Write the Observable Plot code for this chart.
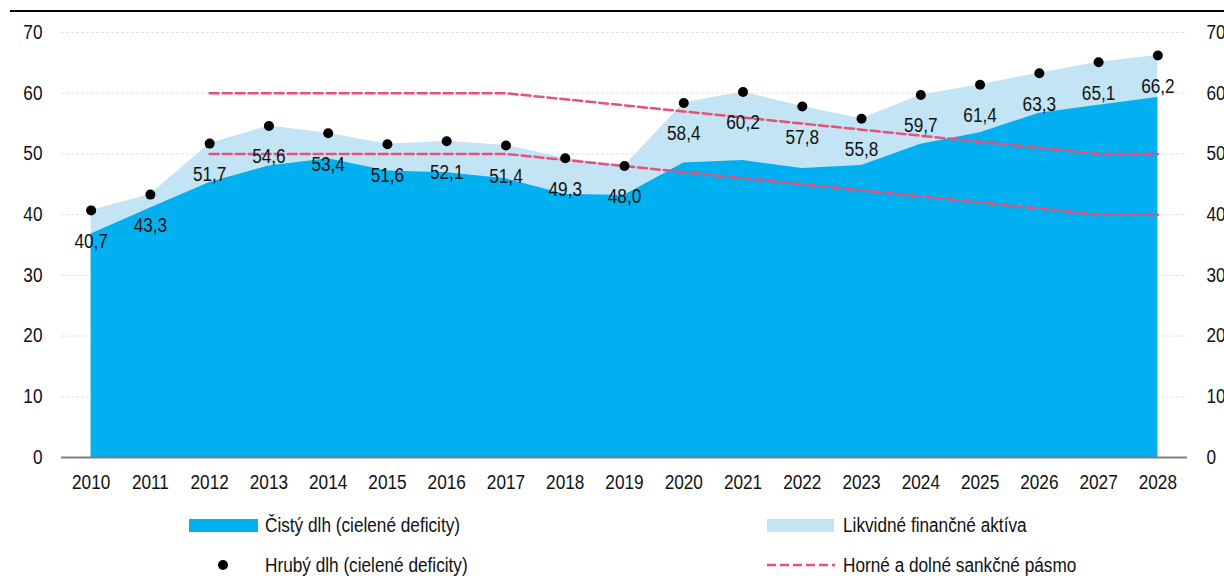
<!DOCTYPE html>
<html>
<head>
<meta charset="utf-8">
<script src="https://cdn.jsdelivr.net/npm/d3@7"></script>
<script src="https://cdn.jsdelivr.net/npm/@observablehq/plot@0.6"></script>
<style>
  html, body { margin: 0; padding: 0; background: #fff; }
  #wrap { position: relative; width: 1224px; height: 576px; overflow: hidden;
          font-family: 'Liberation Sans', Arial, sans-serif; }
  #topline { position: absolute; left: 10px; top: 10px; width: 1214px; height: 2px; background: #000; }
  #chart { position: absolute; left: 0; top: 0; }
  .leg { position: absolute; font-size: 20px; color: #111; line-height: 22px; white-space: nowrap;
         transform: scaleX(0.86); transform-origin: 0 50%; }
  .sw { position: absolute; }
</style>
</head>
<body>
<div id="wrap">
  <div id="chart"></div>
  <div id="topline"></div>
  <div id="legend"></div>
</div>
<script>
const years = [2010, 2011, 2012, 2013, 2014, 2015, 2016, 2017, 2018, 2019, 2020, 2021, 2022, 2023, 2024, 2025, 2026, 2027, 2028];
const grossDebt = [40.7, 43.3, 51.7, 54.6, 53.4, 51.6, 52.1, 51.4, 49.3, 48.0, 58.4, 60.2, 57.8, 55.8, 59.7, 61.4, 63.3, 65.1, 66.2];
const netDebt = [36.8, 41.1, 45.3, 48.0, 49.2, 47.2, 46.9, 45.9, 43.3, 43.2, 48.5, 48.9, 47.6, 48.1, 51.6, 53.5, 56.7, 58.0, 59.3];
const upperBand = [null, null, 60, 60, 60, 60, 60, 60, 59, 58, 57, 56, 55, 54, 53, 52, 51, 50, 50];
const lowerBand = [null, null, 50, 50, 50, 50, 50, 50, 49, 48, 47, 46, 45, 44, 43, 42, 41, 40, 40];
const yTicks = [0, 10, 20, 30, 40, 50, 60, 70];
const legendLabels = {
  net: "Čistý dlh (cielené deficity)",
  liquid: "Likvidné finančné aktíva",
  gross: "Hrubý dlh (cielené deficity)",
  band: "Horné a dolné sankčné pásmo"
};

const colDark = "#00b0f0";
const colLight = "#c2e4f5";
const colBand = "#e94f7a";

const rows = years.map((y, i) => ({
  year: y, gross: grossDebt[i], net: netDebt[i],
  upper: upperBand[i], lower: lowerBand[i],
  label: grossDebt[i].toFixed(1).replace(".", ",")
}));

const chart = Plot.plot({
  width: 1224,
  height: 500,
  marginLeft: 61,
  marginRight: 37,
  marginTop: 32,
  marginBottom: 43,
  style: { fontFamily: "'Liberation Sans', Arial, sans-serif", fontSize: "20px", color: "#111", background: "transparent" },
  x: { type: "linear", domain: [2009.5, 2028.5], label: null },
  y: { domain: [0, 70], label: null },
  marks: [
    Plot.ruleY(yTicks.filter(d => d > 0), { stroke: "#e2e2e2", strokeWidth: 1, strokeDasharray: "3,2" }),
    Plot.areaY(rows, { x: "year", y: "gross", fill: colLight }),
    Plot.areaY(rows, { x: "year", y: "net", fill: colDark }),
    Plot.ruleY([0], { stroke: "#7f7f7f", strokeWidth: 2 }),
    Plot.lineY(rows, { x: "year", y: "upper", stroke: colBand, strokeWidth: 2.5, strokeDasharray: "9,4" }),
    Plot.lineY(rows, { x: "year", y: "lower", stroke: colBand, strokeWidth: 2.5, strokeDasharray: "9,4" }),
    Plot.dot(rows, { x: "year", y: "gross", r: 5, fill: "#000", stroke: null }),
    Plot.text(rows, { x: "year", y: "gross", text: "label", dy: 31, fill: "#111", fontSize: 20 }),
    Plot.axisX({ ticks: years, tickFormat: d => String(d), tickSize: 0, tickPadding: 17, anchor: "bottom", fontSize: 20, label: null }),
    Plot.axisY({ ticks: yTicks, tickSize: 0, tickPadding: 19, anchor: "left", fontSize: 20, label: null }),
    Plot.axisY({ ticks: yTicks, tickSize: 0, tickPadding: 19, anchor: "right", fontSize: 20, label: null })
  ]
});
document.getElementById("chart").appendChild(chart);
// narrow the glyphs horizontally (reference uses a condensed face)
chart.querySelectorAll("text").forEach(t => {
  const len = t.getComputedTextLength();
  if (len > 0) {
    t.setAttribute("textLength", (len * 0.86).toFixed(2));
    t.setAttribute("lengthAdjust", "spacingAndGlyphs");
  }
});

const legend = document.getElementById("legend");
function add(html) { legend.insertAdjacentHTML("beforeend", html); }
add(`<div class="sw" style="left:189px;top:519px;width:69px;height:13px;background:${colDark}"></div>`);
add(`<div class="leg" style="left:265px;top:514px">${legendLabels.net}</div>`);
add(`<div class="sw" style="left:218px;top:560px;width:10px;height:10px;border-radius:50%;background:#000"></div>`);
add(`<div class="leg" style="left:265px;top:554px">${legendLabels.gross}</div>`);
add(`<div class="sw" style="left:767px;top:519px;width:67px;height:13px;background:${colLight}"></div>`);
add(`<div class="leg" style="left:843px;top:514px">${legendLabels.liquid}</div>`);
add(`<svg class="sw" style="left:767px;top:560px" width="68" height="10"><line x1="0" y1="5" x2="68" y2="5" stroke="${colBand}" stroke-width="2.5" stroke-dasharray="9,4"/></svg>`);
add(`<div class="leg" style="left:843px;top:554px">${legendLabels.band}</div>`);
</script>
</body>
</html>
